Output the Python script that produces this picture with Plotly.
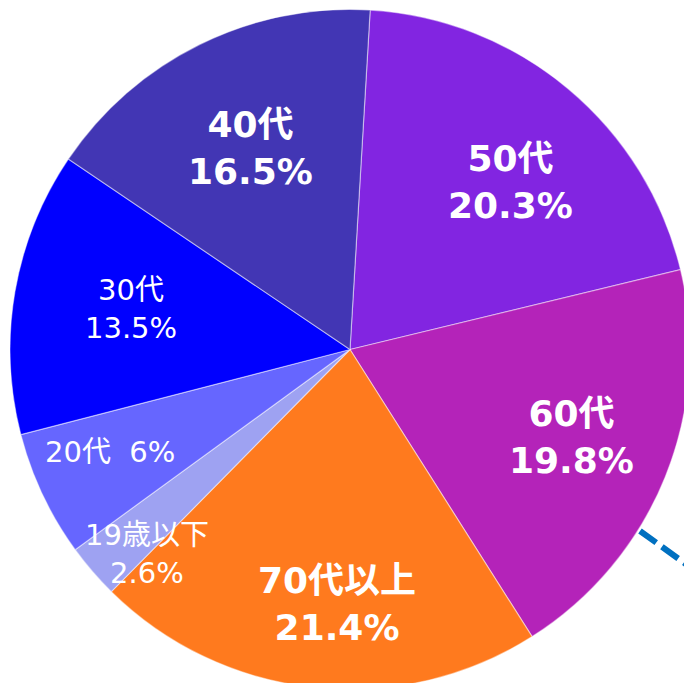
import plotly.graph_objects as go

labels = ["50代", "60代", "70代以上", "19歳以下", "20代", "30代", "40代"]
values = [20.3, 19.8, 21.4, 2.6, 6.0, 13.5, 16.5]
pct_text = ["20.3%", "19.8%", "21.4%", "2.6%", "6%", "13.5%", "16.5%"]
colors = ["#8225E1", "#B423B9", "#FF7A1E", "#9EA2F2", "#6666FF", "#0000FF", "#4236B4"]
bold = [True, True, True, False, False, False, True]
# label block centres in page pixels (x from left, y from top)
label_px = [(510, 182), (571, 437), (337, 604), (147, 554), (110, 452), (131, 309), (250, 148)]
single_line = [False, False, False, False, True, False, False]

W, H = 692, 683
OFF = 8  # page body margin
R = 340
CX = 350 - OFF

fig = go.Figure(go.Pie(
    labels=labels,
    values=values,
    sort=False,
    direction="clockwise",
    rotation=3.4,
    marker=dict(colors=colors, line=dict(color="rgba(255,255,255,0.45)", width=1.2)),
    textinfo="none",
    hoverinfo="label+percent",
    showlegend=False,
    domain=dict(x=[(CX - R) / W, (CX + R) / W], y=[0, 1]),
))

font_family = "DejaVu Sans, Noto Sans CJK JP, sans-serif"
for lab, pt, b, (px, py), single in zip(labels, pct_text, bold, label_px, single_line):
    sep = "\u00a0\u00a0" if single else "<br>"
    txt = f"{lab}{sep}{pt}"
    if b:
        txt = f"<b>{txt}</b>"
    fig.add_annotation(
        x=(px - OFF) / W, y=1 - (py - OFF) / H, xref="paper", yref="paper",
        text=txt, showarrow=False, xanchor="center", yanchor="middle",
        align="center",
        font=dict(family=font_family, size=36 if b else 29, color="white"),
    )

# dashed leader line at the lower right
x0p, y0p = 640 - OFF, 531 - OFF
fig.add_shape(
    type="line", xref="paper", yref="paper",
    x0=x0p / W, y0=1 - y0p / H, x1=(x0p + 90) / W, y1=1 - (y0p + 90 * 0.72) / H,
    line=dict(color="#0070C0", width=6, dash="20px,7px"),
)

fig.update_layout(
    width=W, height=H,
    margin=dict(l=0, r=0, t=0, b=0),
    paper_bgcolor="white",
    plot_bgcolor="white",
)

fig.write_html("out.html")
